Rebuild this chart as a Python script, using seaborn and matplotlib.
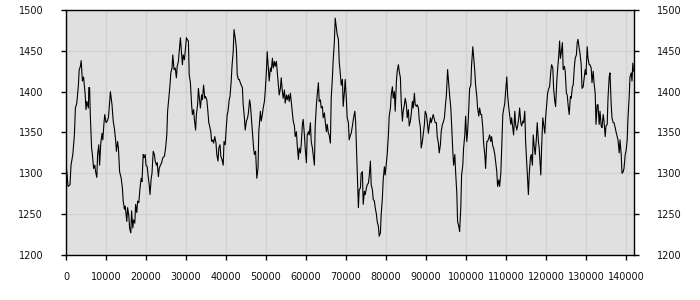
import matplotlib
matplotlib.use("Agg")
import matplotlib.pyplot as plt
import seaborn as sns
import pandas as pd

xs = [0,250,500,1000,1250,1700,2100,2350,2700,2950,3100,3300,3600,3800,4100,4400,4800,5000,5200,5600,5700,5900,6100,6400,6600,6900,7200,7400,7700,7900,8200,8400,8700,9000,9200,9500,9700,10000,10300,10600,10800,11100,11300,11500,11800,12100,12400,12600,12900,13100,13400,13800,14100,14300,14600,14800,15200,15400,15700,15900,16200,16400,16700,16900,17200,17400,17700,17900,18200,18500,18800,19000,19300,19500,19800,20000,20300,20500,20800,21000,21300,21500,21800,22100,22300,22600,22800,23100,23300,23600,23900,
      24200,24600,24900,25200,25400,25700,26000,26200,26500,26700,27000,27300,27600,27800,28100,28300,28600,28800,29100,29300,29600,29800,30100,30300,30600,30800,31100,31400,31600,31900,32100,32400,32600,32900,33100,33400,33600,33900,34100,34400,34700,34900,35200,35400,35700,35900,36200,36400,36700,36900,37200,37500,37700,38000,38200,38500,38700,39000,39300,39500,39800,40000,40300,40500,40800,41000,41300,41500,41800,42000,42300,42600,42800,43100,43300,43600,43800,44100,44300,44600,44800,45100,45400,45600,45900,46100,46400,46600,46900,47100,47400,47700,
      48000,48200,48400,48600,48800,49100,49300,49600,49800,50100,50300,50600,50800,51100,51300,51600,51800,52100,52300,52600,52800,53100,53300,53600,53800,54100,54300,54600,54800,55100,55300,55600,55800,56100,56300,56600,56800,57100,57300,57600,57800,58100,58300,58600,58800,59100,59300,59600,59800,60100,60300,60600,60800,61100,61300,61600,61800,62100,62300,62600,62800,63100,63300,63600,63800,64100,64300,64600,64800,65100,65300,65600,65800,66100,66300,66600,66800,67100,67300,67600,67800,68100,68300,68600,68800,69100,69300,69600,69800,70100,70300,70600,70800,71100,71300,71600,
      71900,72200,72400,72700,72900,73100,73300,73600,73800,74100,74300,74600,74800,75100,75300,75600,75800,76100,76300,76600,76800,77100,77300,77600,77800,78100,78300,78600,78800,79100,79300,79600,79800,80100,80300,80600,80800,81100,81300,81600,81800,82100,82300,82600,82800,83100,83300,83600,83800,84100,84300,84600,84800,85100,85300,85600,85800,86100,86300,86600,86800,87100,87300,87600,87800,88100,88300,88600,88800,89100,89300,89600,89800,90100,90300,90600,90800,91100,91300,91600,91800,92100,92300,92600,92800,93100,93300,93600,93800,94100,94300,94600,94800,
      95100,95400,95700,95900,96200,96400,96700,96900,97200,97400,97700,97900,98200,98400,98700,98900,99200,99400,99700,99900,100200,100400,100700,100900,101200,101400,101700,101900,102200,102400,102700,102900,103200,103400,103700,103900,104200,104400,104700,104900,105200,105400,105700,105900,106200,106400,106700,106900,107200,107400,107700,107900,108200,108400,108700,108900,109200,109400,109700,109900,110200,110400,110700,110900,111200,111400,111700,111900,112200,112400,112700,112900,113200,113400,113700,113900,114200,114400,114700,114900,115200,115400,115600,115800,116100,116300,116600,116800,117100,117300,117600,117800,118100,118300,
      118700,118900,119200,119400,119700,119900,120200,120400,120700,120900,121200,121400,121700,121900,122200,122400,122700,122900,123200,123400,123600,123800,124100,124300,124600,124800,125100,125300,125600,125800,126100,126300,126600,126800,127100,127300,127600,127800,128000,128300,128500,128800,129000,129300,129500,129800,130000,130300,130500,130800,131000,131300,131500,131800,132000,132300,132500,132800,133000,133300,133500,133800,134000,134300,134500,134800,135000,135300,135500,135800,136000,136300,136500,136800,137000,137300,137500,137800,138000,138300,138500,138800,139000,139300,139500,139800,140000,140300,140500,140800,141000,141300,141500,141700,141900]

ys = [1310,1300,1284,1286,1310,1323,1347,1380,1386,1400,1408,1427,1431,1438,1413,1418,1396,1378,1388,1380,1405,1405,1368,1331,1323,1306,1310,1302,1295,1323,1335,1310,1337,1349,1341,1362,1372,1362,1364,1368,1380,1400,1392,1384,1364,1355,1341,1327,1339,1331,1302,1294,1282,1266,1256,1260,1241,1258,1248,1233,1227,1254,1233,1243,1239,1262,1252,1266,1264,1282,1294,1290,1323,1319,1323,1310,1308,1298,1286,1274,1294,1300,1327,1323,1315,1310,1313,1296,1306,1310,1313,
      1319,1321,1331,1347,1376,1392,1408,1423,1429,1445,1427,1429,1417,1431,1437,1449,1466,1453,1433,1445,1439,1449,1466,1464,1462,1421,1411,1384,1372,1378,1366,1353,1372,1384,1404,1390,1380,1396,1390,1408,1392,1394,1390,1380,1362,1358,1351,1339,1341,1337,1345,1337,1323,1315,1331,1335,1321,1317,1310,1339,1335,1351,1372,1376,1390,1394,1413,1431,1449,1476,1466,1453,1421,1415,1415,1411,1408,1405,1384,1368,1353,1364,1368,1374,1390,1384,1364,1349,1331,1323,1327,1294,
      1306,1351,1364,1376,1364,1372,1380,1388,1400,1425,1449,1427,1413,1429,1425,1441,1429,1437,1431,1437,1425,1408,1396,1404,1417,1400,1392,1402,1386,1396,1390,1396,1388,1398,1388,1372,1364,1358,1345,1351,1335,1317,1331,1325,1335,1360,1366,1347,1331,1313,1347,1351,1347,1362,1339,1331,1323,1310,1358,1384,1396,1411,1388,1390,1380,1382,1368,1374,1364,1351,1360,1349,1347,1337,1392,1417,1439,1462,1490,1478,1470,1464,1437,1421,1408,1415,1382,1400,1415,1390,1368,1362,1341,1347,1349,1358,
      1368,1376,1364,1319,1286,1258,1280,1282,1300,1302,1262,1278,1274,1282,1286,1288,1296,1315,1286,1280,1268,1266,1258,1250,1241,1235,1223,1227,1250,1270,1292,1308,1298,1313,1323,1347,1370,1380,1396,1406,1392,1400,1376,1413,1425,1433,1425,1417,1388,1364,1376,1384,1392,1384,1368,1378,1358,1364,1372,1388,1380,1398,1384,1382,1384,1380,1366,1356,1331,1339,1347,1360,1376,1372,1364,1349,1358,1368,1362,1368,1372,1366,1362,1362,1345,1337,1325,1335,1351,1360,1362,1368,1380,
      1396,1427,1408,1396,1380,1360,1327,1310,1323,1302,1276,1241,1235,1229,1258,1298,1310,1331,1347,1370,1339,1351,1380,1404,1408,1433,1455,1443,1425,1408,1394,1380,1370,1380,1372,1372,1356,1337,1323,1306,1339,1339,1343,1347,1339,1345,1333,1331,1323,1315,1302,1284,1292,1284,1300,1327,1372,1378,1386,1400,1418,1396,1380,1372,1360,1368,1356,1347,1376,1360,1353,1358,1368,1380,1362,1358,1364,1362,1376,1339,1310,1292,1274,1298,1319,1323,1310,1347,1331,1323,1343,1362,1339,1331,
      1298,1331,1368,1360,1349,1368,1386,1398,1404,1406,1425,1433,1429,1404,1388,1382,1413,1427,1445,1462,1441,1447,1460,1427,1431,1425,1398,1396,1380,1372,1394,1392,1406,1408,1431,1441,1445,1460,1464,1453,1447,1433,1404,1406,1415,1427,1421,1455,1441,1433,1433,1429,1411,1425,1411,1398,1360,1384,1384,1360,1376,1358,1356,1372,1364,1345,1358,1360,1392,1418,1423,1384,1368,1362,1362,1356,1351,1345,1341,1325,1341,1323,1300,1302,1306,1323,1327,1341,1368,1394,1418,1423,1413,1435,1425]

x_ticks = list(range(0, 140001, 10000))
y_ticks = [1200, 1250, 1300, 1350, 1400, 1450, 1500]

df = pd.DataFrame({"x": xs, "y": ys})

sns.set_style("whitegrid", {
    "axes.facecolor": "#e0e0e0",
    "grid.color": "#d2d2d2",
    "axes.edgecolor": "#000000",
})
plt.rcParams['font.family'] = ['DejaVu Sans']

fig = plt.figure(figsize=(7, 3), dpi=100)
ax = fig.add_axes([66/700, 1-255/300, (634-66)/700, (255-10)/300])
sns.lineplot(data=df, x="x", y="y", ax=ax, color="black", linewidth=0.8, estimator=None, sort=False)

ax.set_xlim(0, 142000)
ax.set_ylim(1200, 1500)
ax.set_xticks(x_ticks)
ax.set_xticklabels([str(t) for t in x_ticks])
ax.set_yticks(y_ticks)
ax.set_yticklabels([str(t) for t in y_ticks])
ax.set_xlabel("")
ax.set_ylabel("")
ax.grid(True, color="#d2d2d2", linewidth=1)
for s in ax.spines.values():
    s.set_visible(True)
    s.set_color("black")
    s.set_linewidth(1)

ax.tick_params(axis="x", which="both", bottom=True, top=False, direction="out", length=3.5, width=1,
               color="black", labelsize=7, labelcolor="#111111", pad=9)
ax.tick_params(axis="y", which="both", left=True, right=True, labelleft=True, labelright=True,
               direction="out", length=3.5, width=1, color="black", labelsize=7, labelcolor="#111111")
for t in ax.yaxis.get_major_ticks():
    t.set_pad(13)

fig.savefig("out.png", dpi=100, facecolor="white")
